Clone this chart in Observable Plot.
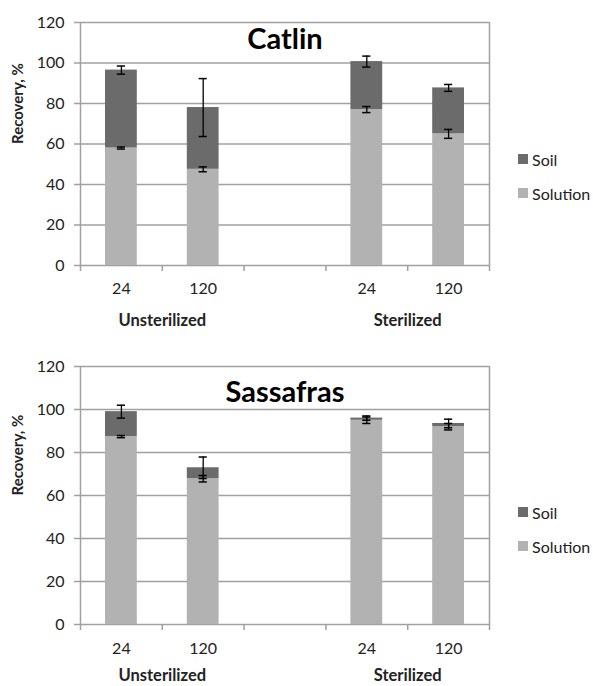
<!DOCTYPE html>
<html>
<head>
<meta charset="utf-8">
<script src="https://cdn.jsdelivr.net/npm/d3@7"></script>
<script src="https://cdn.jsdelivr.net/npm/@observablehq/plot@0.6"></script>
<style>
  body { margin: 0; background: #fff; font-family: Lato, "Open Sans", sans-serif; }
  .chart { position: relative; width: 593px; }
  .legend { position: absolute; font-size: 16px; color: #222; }
  .legend .item { display: flex; align-items: center; height: 34px; }
  .legend .sw { width: 10px; height: 10px; margin-right: 4px; }
</style>
</head>
<body>
<div id="top" class="chart"></div>
<div id="bottom" class="chart"></div>
<script>
// ---- data ----
const categories = ["Unsterilized 24", "Unsterilized 120", "", "Sterilized 24", "Sterilized 120"];
const barCategories = ["Unsterilized 24", "Unsterilized 120", "Sterilized 24", "Sterilized 120"];
const timeLabels = ["24", "120", "24", "120"];
const groupNames = ["Unsterilized", "Sterilized"];
const yTicks = [0, 20, 40, 60, 80, 100, 120];
const seriesNames = ["Soil", "Solution"];

const catlinSolution = [58, 47.5, 77, 65];
const catlinSolutionErr = [0.5, 1.2, 1.5, 2.2];
const catlinTotal = [96.5, 78, 100.7, 87.7];
const catlinTotalErr = [2, 14.3, 2.7, 1.7];

const sassafrasSolution = [87.4, 67.8, 95, 92];
const sassafrasSolutionErr = [0.5, 1.5, 1.5, 1.5];
const sassafrasTotal = [99, 72.9, 96, 93.5];
const sassafrasTotalErr = [3, 5, 1, 2];

// ---- styles ----
const soilColor = "#6b6b6b";
const solutionColor = "#b2b2b2";
const gridColor = "#a0a0a0";
const textColor = "#222";
const font = "Lato, 'Open Sans', sans-serif";

function makeChart(opts) {
  const {title, solution, solutionErr, total, totalErr, height, marginTop, marginBottom, titleDy, tickDy, groupDy} = opts;
  const rows = barCategories.map((c, k) => ({
    i: categories.indexOf(c),
    time: timeLabels[k],
    sol: solution[k], solErr: solutionErr[k],
    tot: total[k], totErr: totalErr[k]
  }));
  const groups = groupNames.map(g => {
    const idx = categories.map((c, i) => c.startsWith(g + " ") ? i : -1).filter(i => i >= 0);
    return {name: g, x: d3.mean(idx) + 0.5};
  });
  const errs = rows.flatMap(d => [
    {x: d.i + 0.5, lo: d.sol - d.solErr, hi: d.sol + d.solErr},
    {x: d.i + 0.5, lo: d.tot - d.totErr, hi: d.tot + d.totErr}
  ]);
  const ml = 80, mr = 104, width = 593;
  return Plot.plot({
    width, height, marginLeft: ml, marginRight: mr, marginTop, marginBottom,
    style: {fontFamily: font, background: "transparent", overflow: "visible"},
    x: {domain: [0, categories.length], axis: null},
    y: {domain: [0, 120], axis: null},
    marks: [
      Plot.ruleY(yTicks, {stroke: gridColor, strokeWidth: 1.5}),
      Plot.ruleX([0, categories.length], {stroke: gridColor, strokeWidth: 1.5}),
      Plot.axisX({anchor: "bottom", ticks: d3.range(categories.length + 1), tickSize: 6, stroke: gridColor, strokeWidth: 1.5, tickFormat: () => "", label: null}),
      Plot.axisY({anchor: "left", ticks: yTicks, tickSize: 6, tickPadding: 10, stroke: gridColor, strokeWidth: 1.5, fill: textColor, fontSize: 16, label: null}),
      Plot.rectY(rows, {x1: d => d.i, x2: d => d.i + 1, y1: 0, y2: "sol", fill: solutionColor, insetLeft: 25, insetRight: 25}),
      Plot.rectY(rows, {x1: d => d.i, x2: d => d.i + 1, y1: "sol", y2: "tot", fill: soilColor, insetLeft: 25, insetRight: 25}),
      Plot.ruleX(errs, {x: "x", y1: "lo", y2: "hi", stroke: "#000", strokeWidth: 1.3}),
      Plot.ruleY(errs, {y: "hi", x1: d => d.x - 0.05, x2: d => d.x + 0.05, stroke: "#000", strokeWidth: 1.5}),
      Plot.ruleY(errs, {y: "lo", x1: d => d.x - 0.05, x2: d => d.x + 0.05, stroke: "#000", strokeWidth: 1.5}),
      Plot.text(rows, {x: d => d.i + 0.5, text: "time", frameAnchor: "bottom", dy: tickDy, fontSize: 16, fill: textColor, lineAnchor: "middle"}),
      Plot.text(groups, {x: "x", text: "name", frameAnchor: "bottom", dy: groupDy, fontSize: 16.5, fontWeight: "bold", fill: textColor, lineAnchor: "middle"}),
      Plot.text([title], {frameAnchor: "top", dy: titleDy, fontSize: 29, fontWeight: "bold", fill: "#000", lineAnchor: "middle"}),
      Plot.text(["Recovery, %"], {frameAnchor: "left", dx: -62, rotate: -90, fontSize: 15, fontWeight: "bold", fill: textColor})
    ]
  });
}

function legend(top) {
  const el = document.createElement("div");
  el.className = "legend";
  el.style.left = "518px";
  el.style.top = top + "px";
  const colors = {Soil: soilColor, Solution: solutionColor};
  for (const s of seriesNames) {
    const item = document.createElement("div");
    item.className = "item";
    item.innerHTML = `<span class="sw" style="background:${colors[s]}"></span><span>${s}</span>`;
    el.appendChild(item);
  }
  return el;
}

const topDiv = document.getElementById("top");
topDiv.appendChild(makeChart({
  title: "Catlin", solution: catlinSolution, solutionErr: catlinSolutionErr,
  total: catlinTotal, totalErr: catlinTotalErr,
  height: 340, marginTop: 22, marginBottom: 75, titleDy: 17, tickDy: 23, groupDy: 55
}));
topDiv.appendChild(legend(142));

const botDiv = document.getElementById("bottom");
botDiv.appendChild(makeChart({
  title: "Sassafras", solution: sassafrasSolution, solutionErr: sassafrasSolutionErr,
  total: sassafrasTotal, totalErr: sassafrasTotalErr,
  height: 346, marginTop: 26, marginBottom: 62, titleDy: 26, tickDy: 24, groupDy: 51
}));
botDiv.appendChild(legend(155));
</script>
</body>
</html>
